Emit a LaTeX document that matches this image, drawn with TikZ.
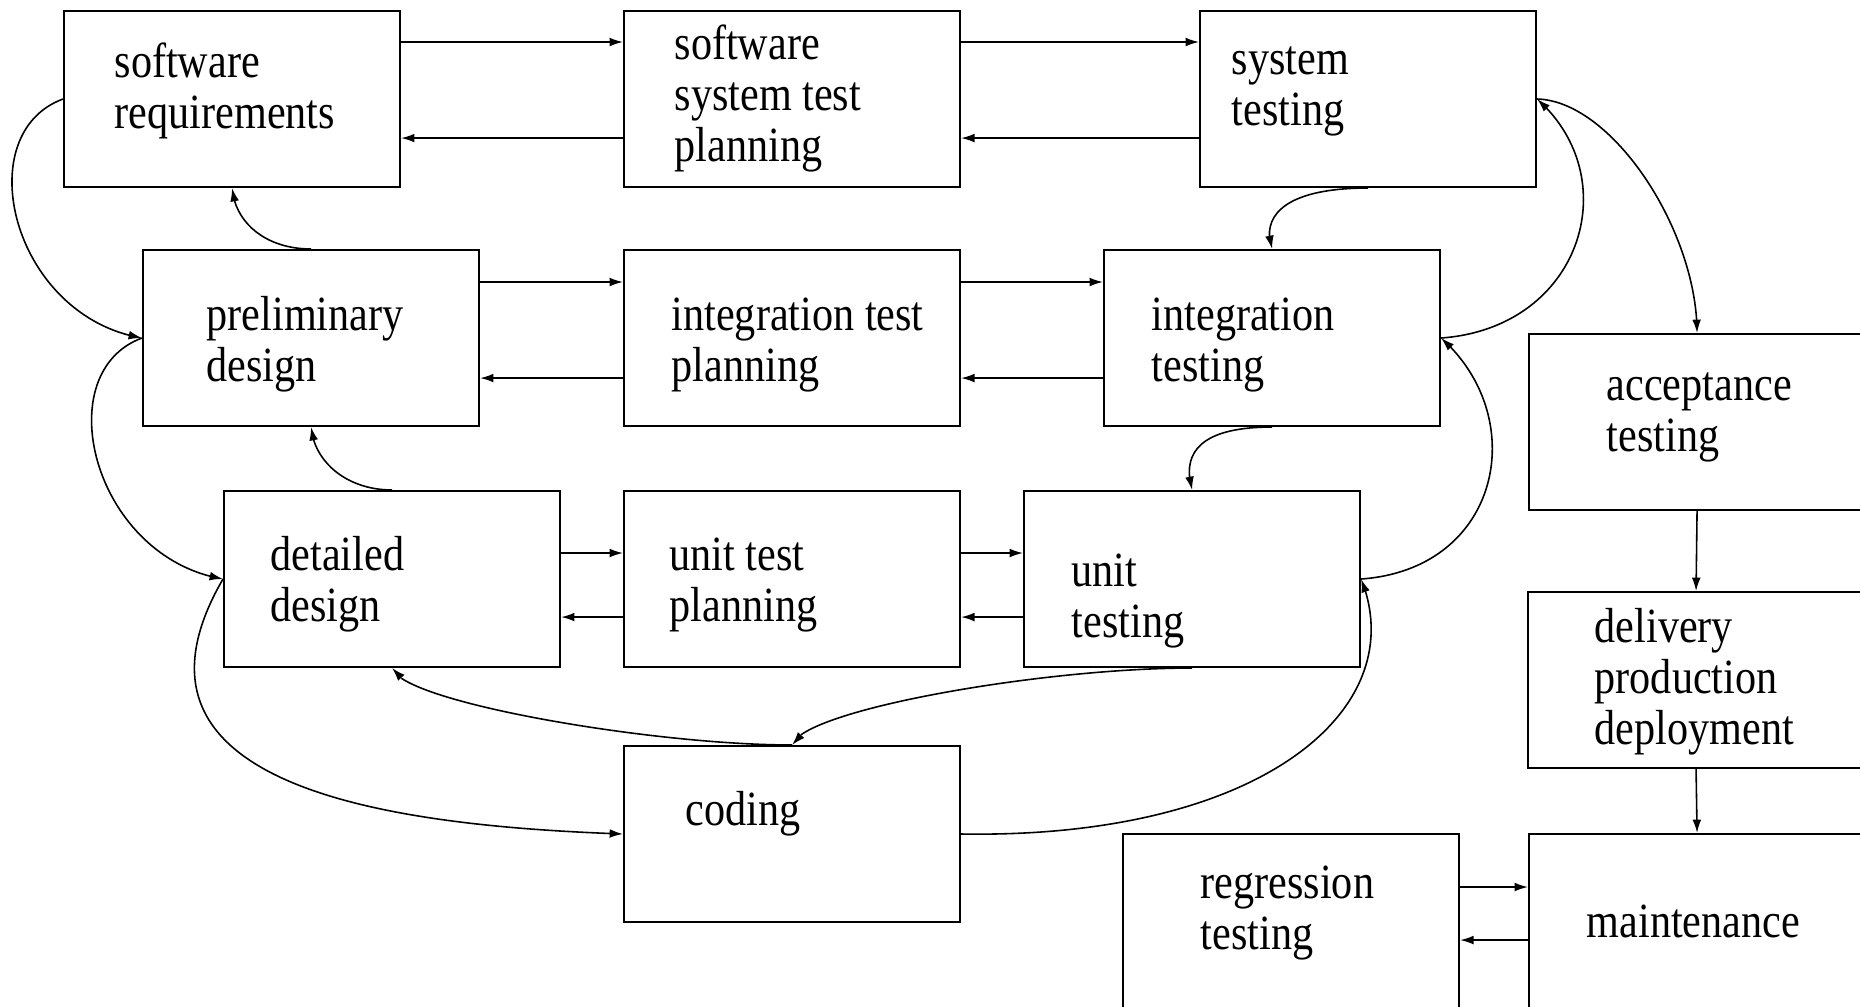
\documentclass[tikz,border=0pt]{standalone}
\usepackage{fontspec}
\setmainfont{Liberation Serif}[FakeStretch=0.857]
\usetikzlibrary{calc,arrows.meta,bending}
\newcommand{\Stage}[1]{\begin{tabular}[t]{@{}l@{}}#1\end{tabular}}
\tikzset{
  stage/.style={draw,line width=0.55pt,anchor=north west,inner sep=0pt,
                minimum width=3.36cm,minimum height=1.76cm},
  stagetext/.style={anchor=base west,inner sep=0pt,font=\fontsize{14}{14.5}\selectfont},
  link/.style={line width=0.45pt,-{Latex[length=3.8pt,width=2.5pt]}}
}

\begin{document}
\begin{tikzpicture}[x=0.01cm,y=-0.01cm]
\useasboundingbox (0,0) rectangle (1860,1007);
\clip (0,0) rectangle (1860,1007);
\node[stage] (SR) at (63,10) {};
\node[stage] (SP) at (623,10) {};
\node[stage] (ST) at (1199,10) {};
\node[stage] (PD) at (142,249) {};
\node[stage] (IP) at (623,249) {};
\node[stage] (IT) at (1103,249) {};
\node[stage] (AT) at (1528,333) {};
\node[stage] (DD) at (223,490) {};
\node[stage] (UP) at (623,490) {};
\node[stage] (UT) at (1023,490) {};
\node[stage] (DP) at (1527,591) {};
\node[stage] (CO) at (623,745) {};
\node[stage] (RT) at (1122,833) {};
\node[stage] (MT) at (1528,833) {};
\node[stagetext] (SRt) at (114,78) {\Stage{software\\requirements}};
\node[stagetext] (SPt) at (674,60) {\Stage{software\\system test\\planning}};
\node[stagetext] (STt) at (1231,75) {\Stage{system\\testing}};
\node[stagetext] (PDt) at (206,331) {\Stage{preliminary\\design}};
\node[stagetext] (IPt) at (671,331) {\Stage{integration test\\planning}};
\node[stagetext] (ITt) at (1151,331) {\Stage{integration\\testing}};
\node[stagetext] (ATt) at (1606,401) {\Stage{acceptance\\testing}};
\node[stagetext] (DDt) at (270,571) {\Stage{detailed\\design}};
\node[stagetext] (UPt) at (669,571) {\Stage{unit test\\planning}};
\node[stagetext] (UTt) at (1071,587) {\Stage{unit\\testing}};
\node[stagetext] (DPt) at (1594,643) {\Stage{delivery\\production\\deployment}};
\node[stagetext] (COt) at (685,826) {\Stage{coding}};
\node[stagetext] (RTt) at (1200,899) {\Stage{regression\\testing}};
\node[stagetext] (MTt) at (1586,938) {\Stage{maintenance}};
% planning <-> doing
\foreach \a/\b/\u/\l in {SR/SP/0.32/1.28,SP/ST/0.32/1.28,PD/IP/0.33/1.29,IP/IT/0.33/1.29,
                         DD/UP/0.63/1.27,UP/UT/0.63/1.27,RT/MT/0.54/1.07}{
  \draw[link] ([yshift=-\u cm]\a.north east) -- ([yshift=-\u cm]\b.north west);
  \draw[link] ([yshift=-\l cm]\b.north west) -- ([yshift=-\l cm]\a.north east);
}
% down the left side
\draw[link] (SR.west) .. controls +(-95,35) and +(-130,-22) .. (PD.west);
\draw[link] (PD.west) .. controls +(-95,35) and +(-130,-22) .. (DD.west);
\draw[link] (DD.west) .. controls +(-123,212) and +(-223,-8) .. (CO.west);
\draw[link] (PD.north) .. controls +(-45,0) and +(3,35) .. (SR.south);
\draw[link] (DD.north) .. controls +(-45,0) and +(3,35) .. (PD.south);
\draw[link] (CO.north) .. controls +(-140,0) and +(9,34) .. (DD.south);
% up the right side
\draw[link] (CO.east) .. controls +(300,5) and +(52,130) .. (UT.east);
\draw[link] (UT.east) .. controls +(140,-10) and +(90,80) .. (IT.east);
\draw[link] (IT.east) .. controls +(140,-10) and +(90,80) .. (ST.east);
\draw[link] (ST.east) .. controls +(75,2) and +(0,-103) .. (AT.north);
\draw[link] (ST.south) .. controls +(-80,0) and +(-12,-35) .. (IT.north);
\draw[link] (IT.south) .. controls +(-75,0) and +(-10,-35) .. (UT.north);
\draw[link] (UT.south) .. controls +(-150,0) and +(10,-35) .. (CO.north);
\draw[link] (AT.south) -- (DP.north);
\draw[link] (DP.south) -- (MT.north);
\end{tikzpicture}
\end{document}
